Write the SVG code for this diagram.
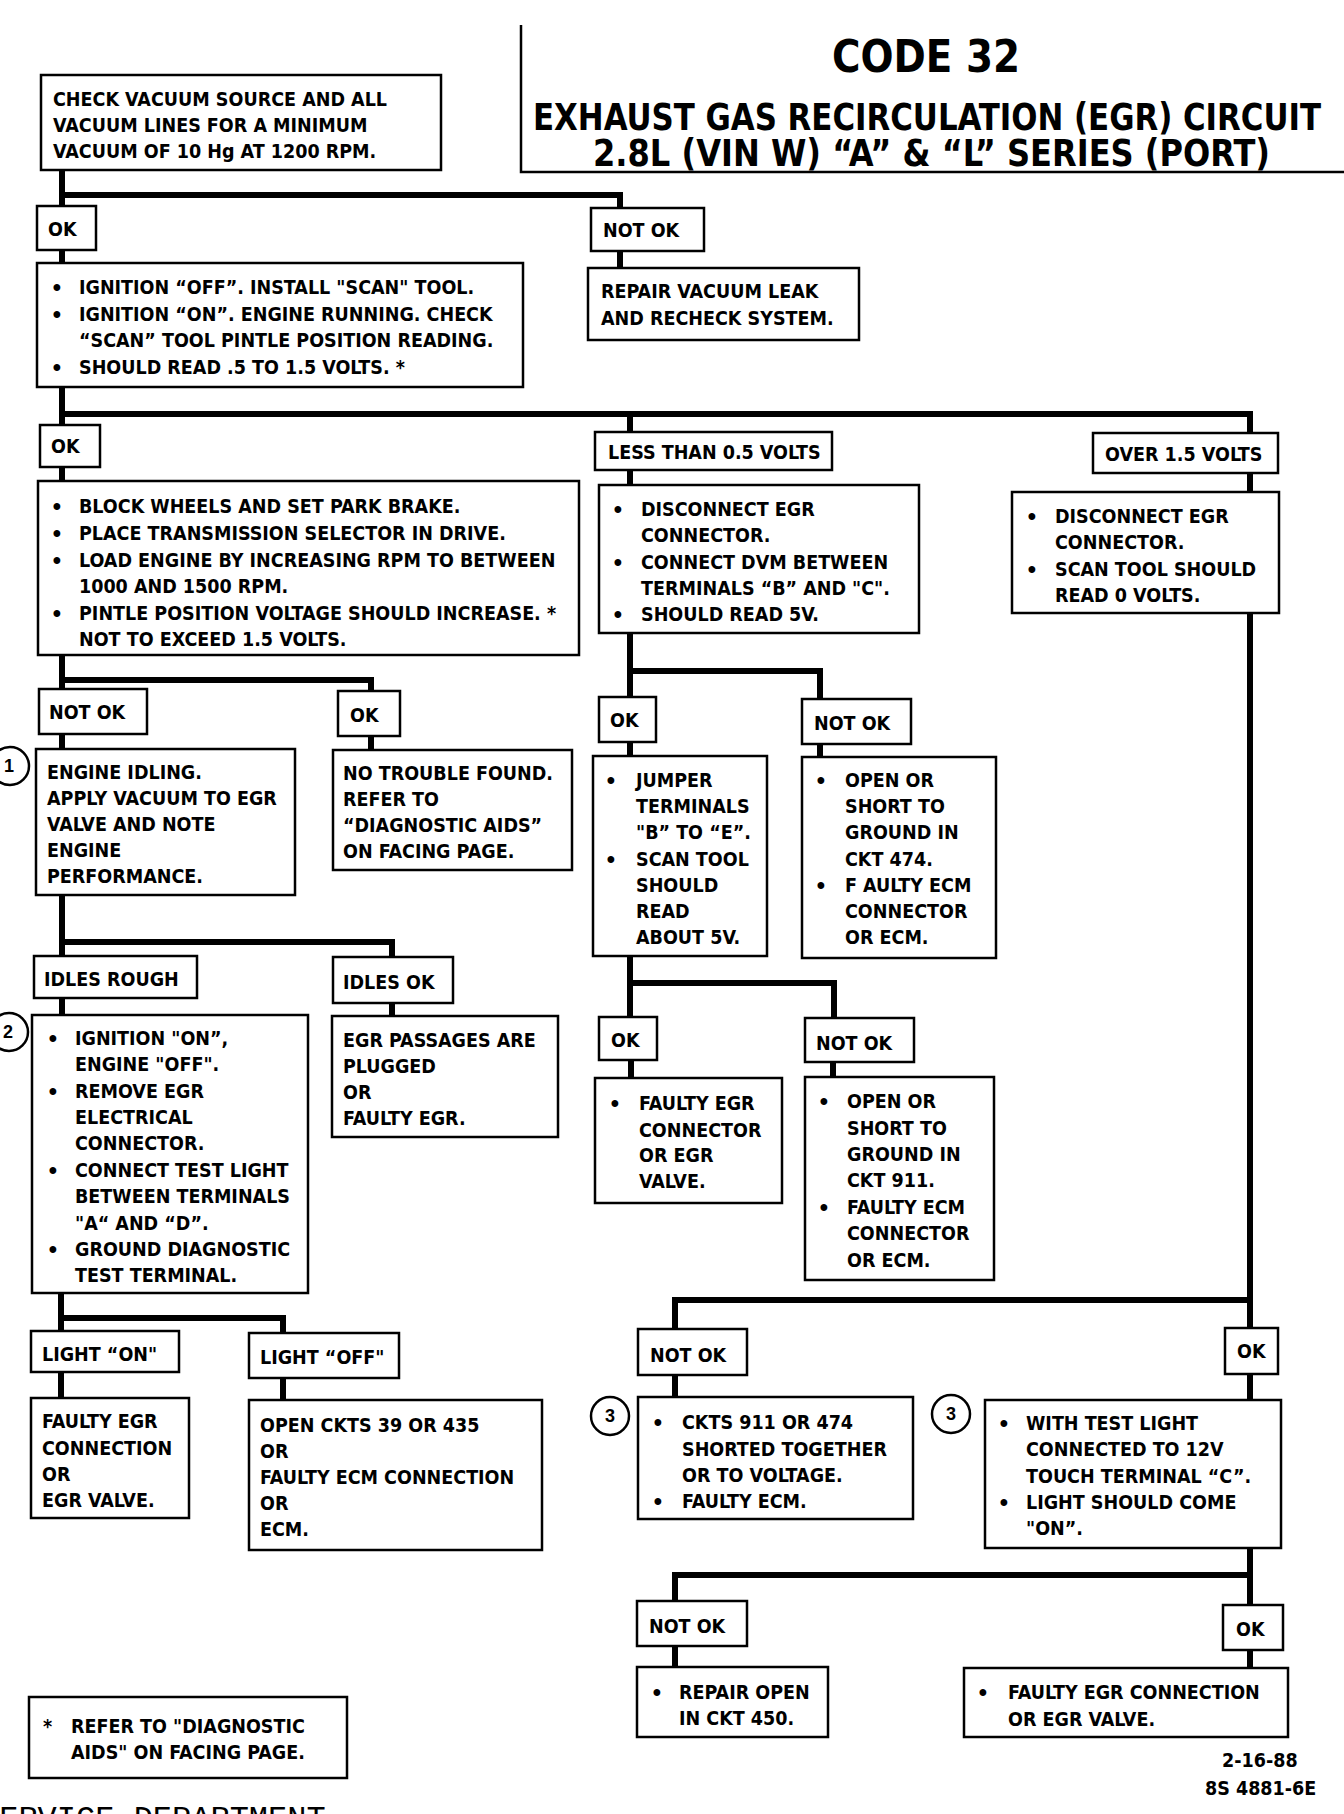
<svg xmlns="http://www.w3.org/2000/svg" width="1344" height="1814" viewBox="0 0 1344 1814">
<style>
.bg{fill:#fff}
.box{fill:#fff;stroke:#000;stroke-width:2.5}
.wire{fill:none;stroke:#000;stroke-width:6;stroke-linecap:butt;stroke-linejoin:miter}
.rule{fill:none;stroke:#000;stroke-width:2.5}
.t{font-family:"Liberation Sans Narrow","DejaVu Sans Condensed","Liberation Sans",sans-serif;font-size:19.5px;font-weight:bold;fill:#000}
.b{font-family:"Liberation Sans","DejaVu Sans",sans-serif;font-size:25px;fill:#000;text-anchor:middle}
.h{font-family:"Liberation Sans Narrow","DejaVu Sans Condensed","Liberation Sans",sans-serif;font-weight:bold;fill:#000}
.num{font-family:"Liberation Sans Narrow","Liberation Sans",sans-serif;font-size:18px;font-weight:bold;text-anchor:middle;fill:#000}
.mono{font-family:"Liberation Mono","DejaVu Sans Mono",monospace;font-size:32px;fill:#000}
</style>
<rect class="bg" x="0" y="0" width="1344" height="1814"/>

<g id="title">
<path class="rule" d="M521,25 V172 H1344"/>
<text class="h" x="926" y="72" font-size="44" text-anchor="middle" textLength="188" lengthAdjust="spacingAndGlyphs">CODE 32</text>
<text class="h" x="533" y="130" font-size="37" textLength="788" lengthAdjust="spacingAndGlyphs">EXHAUST GAS RECIRCULATION (EGR) CIRCUIT</text>
<text class="h" x="593" y="166" font-size="37" textLength="677" lengthAdjust="spacingAndGlyphs">2.8L  (VIN W)  “A” &amp; “L”  SERIES  (PORT)</text>
</g>

<g id="connectors">
<path class="wire" d="M62,170 V206 M62,195 H620 V208"/>
<path class="wire" d="M62,250 V264 M620,251 V268"/>
<path class="wire" d="M62,387 V426 M62,414 H1250 V433 M630,414 V432"/>
<path class="wire" d="M62,468 V481 M630,470 V485 M1250,473 V492"/>
<path class="wire" d="M62,655 V689 M62,680 H371 V691"/>
<path class="wire" d="M62,734 V749 M371,736 V750"/>
<path class="wire" d="M62,895 V956 M62,942 H392 V957"/>
<path class="wire" d="M62,998 V1015 M392,1003 V1016"/>
<path class="wire" d="M61,1293 V1331 M61,1318 H283 V1333"/>
<path class="wire" d="M61,1372 V1398 M283,1378 V1400"/>
<path class="wire" d="M630,633 V697 M630,671 H820 V699"/>
<path class="wire" d="M630,742 V756 M820,744 V757"/>
<path class="wire" d="M630,956 V1017 M630,983 H834 V1018"/>
<path class="wire" d="M631,1060 V1078 M833,1062 V1077"/>
<path class="wire" d="M1250,613 V1328 M1250,1300 H675 V1329"/>
<path class="wire" d="M675,1375 V1397 M1250,1374 V1400"/>
<path class="wire" d="M1250,1548 V1605 M1250,1575 H675 V1601"/>
<path class="wire" d="M675,1645 V1667 M1250,1650 V1668"/>
</g>

<g id="n-check">
<rect class="box" x="41" y="75" width="400" height="95"/>
<text class="t" x="53" y="106">CHECK VACUUM SOURCE AND ALL</text>
<text class="t" x="53" y="132">VACUUM LINES FOR A MINIMUM</text>
<text class="t" x="53" y="158">VACUUM OF 10 Hg AT 1200 RPM.</text>
</g>

<g id="l-ok1"><rect class="box" x="37" y="206" width="59" height="44"/><text class="t" x="48" y="236">OK</text></g>
<g id="l-notok1"><rect class="box" x="591" y="208" width="113" height="43"/><text class="t" x="603" y="237">NOT OK</text></g>

<g id="n-ignition">
<rect class="box" x="37" y="263" width="486" height="124"/>
<text class="b" x="57" y="296">•</text><text class="t" x="79" y="294">IGNITION “OFF”.  INSTALL "SCAN" TOOL.</text>
<text class="b" x="57" y="323">•</text><text class="t" x="79" y="321">IGNITION “ON”.  ENGINE RUNNING.  CHECK</text>
<text class="t" x="79" y="347">“SCAN” TOOL PINTLE POSITION READING.</text>
<text class="b" x="57" y="376">•</text><text class="t" x="79" y="374">SHOULD READ .5 TO 1.5 VOLTS.  *</text>
</g>

<g id="n-repair-vacuum">
<rect class="box" x="588" y="268" width="271" height="72"/>
<text class="t" x="601" y="298">REPAIR VACUUM LEAK</text>
<text class="t" x="601" y="325">AND RECHECK SYSTEM.</text>
</g>

<g id="l-ok2"><rect class="box" x="40" y="425" width="60" height="42"/><text class="t" x="51" y="453">OK</text></g>
<g id="l-less"><rect class="box" x="595" y="432" width="237" height="38"/><text class="t" x="608" y="459">LESS THAN 0.5 VOLTS</text></g>
<g id="l-over"><rect class="box" x="1093" y="433" width="185" height="40"/><text class="t" x="1105" y="461">OVER 1.5 VOLTS</text></g>

<g id="n-block">
<rect class="box" x="38" y="481" width="541" height="174"/>
<text class="b" x="57" y="515">•</text><text class="t" x="79" y="513">BLOCK WHEELS AND SET PARK BRAKE.</text>
<text class="b" x="57" y="542">•</text><text class="t" x="79" y="540">PLACE TRANSMISSION SELECTOR IN DRIVE.</text>
<text class="b" x="57" y="569">•</text><text class="t" x="79" y="567">LOAD ENGINE BY INCREASING RPM TO BETWEEN</text>
<text class="t" x="79" y="593">1000 AND 1500 RPM.</text>
<text class="b" x="57" y="622">•</text><text class="t" x="79" y="620">PINTLE POSITION VOLTAGE SHOULD INCREASE.  *</text>
<text class="t" x="79" y="646">NOT TO EXCEED 1.5 VOLTS.</text>
</g>

<g id="n-disconnect1">
<rect class="box" x="599" y="485" width="320" height="148"/>
<text class="b" x="618" y="518">•</text><text class="t" x="641" y="516">DISCONNECT EGR</text>
<text class="t" x="641" y="542">CONNECTOR.</text>
<text class="b" x="618" y="571">•</text><text class="t" x="641" y="569">CONNECT DVM BETWEEN</text>
<text class="t" x="641" y="595">TERMINALS “B” AND "C".</text>
<text class="b" x="618" y="623">•</text><text class="t" x="641" y="621">SHOULD READ 5V.</text>
</g>

<g id="n-disconnect2">
<rect class="box" x="1012" y="492" width="267" height="121"/>
<text class="b" x="1032" y="525">•</text><text class="t" x="1055" y="523">DISCONNECT EGR</text>
<text class="t" x="1055" y="549">CONNECTOR.</text>
<text class="b" x="1032" y="578">•</text><text class="t" x="1055" y="576">SCAN TOOL SHOULD</text>
<text class="t" x="1055" y="602">READ 0 VOLTS.</text>
</g>

<g id="l-notok2"><rect class="box" x="39" y="689" width="108" height="45"/><text class="t" x="49" y="719">NOT OK</text></g>
<g id="l-ok3"><rect class="box" x="338" y="691" width="62" height="45"/><text class="t" x="350" y="722">OK</text></g>

<g id="n-engine-idling">
<circle class="box" cx="10" cy="766" r="19"/><text class="num" x="9" y="772">1</text>
<rect class="box" x="36" y="749" width="259" height="146"/>
<text class="t" x="47" y="779">ENGINE IDLING.</text>
<text class="t" x="47" y="805">APPLY VACUUM TO EGR</text>
<text class="t" x="47" y="831">VALVE AND NOTE</text>
<text class="t" x="47" y="857">ENGINE</text>
<text class="t" x="47" y="883">PERFORMANCE.</text>
</g>

<g id="n-no-trouble">
<rect class="box" x="333" y="750" width="239" height="120"/>
<text class="t" x="343" y="780">NO TROUBLE FOUND.</text>
<text class="t" x="343" y="806">REFER TO</text>
<text class="t" x="343" y="832">“DIAGNOSTIC AIDS”</text>
<text class="t" x="343" y="858">ON FACING PAGE.</text>
</g>

<g id="l-ok4"><rect class="box" x="599" y="697" width="57" height="45"/><text class="t" x="610" y="727">OK</text></g>
<g id="l-notok3"><rect class="box" x="802" y="699" width="109" height="45"/><text class="t" x="814" y="730">NOT OK</text></g>

<g id="n-jumper">
<rect class="box" x="593" y="756" width="174" height="200"/>
<text class="b" x="611" y="789">•</text><text class="t" x="636" y="787">JUMPER</text>
<text class="t" x="636" y="813">TERMINALS</text>
<text class="t" x="636" y="839">"B” TO “E”.</text>
<text class="b" x="611" y="868">•</text><text class="t" x="636" y="866">SCAN TOOL</text>
<text class="t" x="636" y="892">SHOULD</text>
<text class="t" x="636" y="918">READ</text>
<text class="t" x="636" y="944">ABOUT 5V.</text>
</g>

<g id="n-open474">
<rect class="box" x="802" y="757" width="194" height="201"/>
<text class="b" x="821" y="789">•</text><text class="t" x="845" y="787">OPEN OR</text>
<text class="t" x="845" y="813">SHORT TO</text>
<text class="t" x="845" y="839">GROUND IN</text>
<text class="t" x="845" y="866">CKT 474.</text>
<text class="b" x="821" y="894">•</text><text class="t" x="845" y="892">F AULTY ECM</text>
<text class="t" x="845" y="918">CONNECTOR</text>
<text class="t" x="845" y="944">OR ECM.</text>
</g>

<g id="l-idles-rough"><rect class="box" x="34" y="956" width="163" height="42"/><text class="t" x="44" y="986">IDLES ROUGH</text></g>
<g id="l-idles-ok"><rect class="box" x="333" y="957" width="120" height="46"/><text class="t" x="343" y="989">IDLES OK</text></g>

<g id="n-ign-on">
<circle class="box" cx="9" cy="1032" r="19"/><text class="num" x="8" y="1038">2</text>
<rect class="box" x="32" y="1015" width="276" height="278"/>
<text class="b" x="53" y="1047">•</text><text class="t" x="75" y="1045">IGNITION "ON”,</text>
<text class="t" x="75" y="1071">ENGINE "OFF".</text>
<text class="b" x="53" y="1100">•</text><text class="t" x="75" y="1098">REMOVE EGR</text>
<text class="t" x="75" y="1124">ELECTRICAL</text>
<text class="t" x="75" y="1150">CONNECTOR.</text>
<text class="b" x="53" y="1179">•</text><text class="t" x="75" y="1177">CONNECT TEST LIGHT</text>
<text class="t" x="75" y="1203">BETWEEN TERMINALS</text>
<text class="t" x="75" y="1230">"A“ AND “D”.</text>
<text class="b" x="53" y="1258">•</text><text class="t" x="75" y="1256">GROUND DIAGNOSTIC</text>
<text class="t" x="75" y="1282">TEST TERMINAL.</text>
</g>

<g id="n-egr-passages">
<rect class="box" x="332" y="1016" width="226" height="121"/>
<text class="t" x="343" y="1047">EGR PASSAGES ARE</text>
<text class="t" x="343" y="1073">PLUGGED</text>
<text class="t" x="343" y="1099">OR</text>
<text class="t" x="343" y="1125">FAULTY EGR.</text>
</g>

<g id="l-ok5"><rect class="box" x="599" y="1017" width="58" height="43"/><text class="t" x="611" y="1047">OK</text></g>
<g id="l-notok4"><rect class="box" x="805" y="1018" width="109" height="44"/><text class="t" x="816" y="1050">NOT OK</text></g>

<g id="n-faulty-egr-connector">
<rect class="box" x="595" y="1078" width="187" height="125"/>
<text class="b" x="615" y="1112">•</text><text class="t" x="639" y="1110">FAULTY EGR</text>
<text class="t" x="639" y="1137">CONNECTOR</text>
<text class="t" x="639" y="1162">OR EGR</text>
<text class="t" x="639" y="1188">VALVE.</text>
</g>

<g id="n-open911">
<rect class="box" x="805" y="1077" width="189" height="203"/>
<text class="b" x="824" y="1110">•</text><text class="t" x="847" y="1108">OPEN OR</text>
<text class="t" x="847" y="1135">SHORT TO</text>
<text class="t" x="847" y="1161">GROUND IN</text>
<text class="t" x="847" y="1187">CKT 911.</text>
<text class="b" x="824" y="1216">•</text><text class="t" x="847" y="1214">FAULTY ECM</text>
<text class="t" x="847" y="1240">CONNECTOR</text>
<text class="t" x="847" y="1267">OR ECM.</text>
</g>

<g id="l-light-on"><rect class="box" x="31" y="1331" width="148" height="41"/><text class="t" x="42" y="1361">LIGHT “ON"</text></g>
<g id="l-light-off"><rect class="box" x="249" y="1333" width="150" height="45"/><text class="t" x="260" y="1364">LIGHT “OFF"</text></g>

<g id="n-faulty-egr-connection">
<rect class="box" x="31" y="1398" width="158" height="120"/>
<text class="t" x="42" y="1428">FAULTY EGR</text>
<text class="t" x="42" y="1455">CONNECTION</text>
<text class="t" x="42" y="1481">OR</text>
<text class="t" x="42" y="1507">EGR VALVE.</text>
</g>

<g id="n-open-ckts">
<rect class="box" x="249" y="1400" width="293" height="150"/>
<text class="t" x="260" y="1432">OPEN CKTS 39 OR 435</text>
<text class="t" x="260" y="1458">OR</text>
<text class="t" x="260" y="1484">FAULTY ECM CONNECTION</text>
<text class="t" x="260" y="1510">OR</text>
<text class="t" x="260" y="1536">ECM.</text>
</g>

<g id="l-notok5"><rect class="box" x="638" y="1329" width="109" height="46"/><text class="t" x="650" y="1362">NOT OK</text></g>
<g id="l-ok6"><rect class="box" x="1225" y="1328" width="53" height="46"/><text class="t" x="1237" y="1358">OK</text></g>

<g id="n-ckts-shorted">
<circle class="box" cx="610" cy="1416" r="19"/><text class="num" x="610" y="1422">3</text>
<rect class="box" x="638" y="1397" width="275" height="122"/>
<text class="b" x="658" y="1431">•</text><text class="t" x="682" y="1429">CKTS 911 OR 474</text>
<text class="t" x="682" y="1456">SHORTED TOGETHER</text>
<text class="t" x="682" y="1482">OR TO  VOLTAGE.</text>
<text class="b" x="658" y="1510">•</text><text class="t" x="682" y="1508">FAULTY ECM.</text>
</g>

<g id="n-test-light">
<circle class="box" cx="951" cy="1414" r="19"/><text class="num" x="951" y="1420">3</text>
<rect class="box" x="985" y="1400" width="296" height="148"/>
<text class="b" x="1004" y="1432">•</text><text class="t" x="1026" y="1430">WITH TEST LIGHT</text>
<text class="t" x="1026" y="1456">CONNECTED TO 12V</text>
<text class="t" x="1026" y="1483">TOUCH TERMINAL “C”.</text>
<text class="b" x="1004" y="1511">•</text><text class="t" x="1026" y="1509">LIGHT SHOULD COME</text>
<text class="t" x="1026" y="1535">"ON”.</text>
</g>

<g id="l-notok6"><rect class="box" x="637" y="1601" width="110" height="45"/><text class="t" x="649" y="1633">NOT OK</text></g>
<g id="l-ok7"><rect class="box" x="1223" y="1605" width="60" height="45"/><text class="t" x="1236" y="1636">OK</text></g>

<g id="n-repair-open">
<rect class="box" x="637" y="1667" width="191" height="70"/>
<text class="b" x="657" y="1701">•</text><text class="t" x="679" y="1699">REPAIR OPEN</text>
<text class="t" x="679" y="1725">IN CKT 450.</text>
</g>

<g id="n-faulty-egr-final">
<rect class="box" x="964" y="1668" width="324" height="69"/>
<text class="b" x="983" y="1701">•</text><text class="t" x="1008" y="1699">FAULTY EGR CONNECTION</text>
<text class="t" x="1008" y="1726">OR EGR VALVE.</text>
</g>

<g id="n-footnote">
<rect class="box" x="29" y="1697" width="318" height="81"/>
<text class="t" x="43" y="1733">*</text><text class="t" x="71" y="1733">REFER TO "DIAGNOSTIC</text>
<text class="t" x="71" y="1759">AIDS" ON FACING PAGE.</text>
</g>

<g id="footer">
<text class="t" x="1222" y="1767" font-size="17">2-16-88</text>
<text class="t" x="1205" y="1795" font-size="17">8S 4881-6E</text>
<text class="mono" x="-20" y="1828">SERVICE DEPARTMENT</text>
</g>
</svg>
